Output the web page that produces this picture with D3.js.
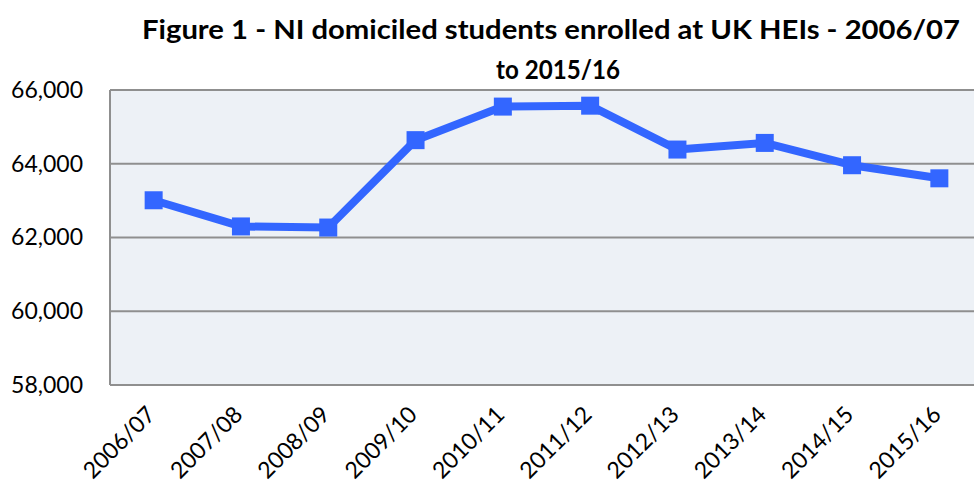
<!DOCTYPE html>
<html>
<head>
<meta charset="utf-8">
<script src="https://cdn.jsdelivr.net/npm/d3@7"></script>
<style>
  body { margin: 0; background: #fff; }
  svg { display: block; font-family: Lato, "Open Sans", sans-serif; }
</style>
</head>
<body>
<div id="chart"></div>
<script>
var years = ["2006/07", "2007/08", "2008/09", "2009/10", "2010/11", "2011/12", "2012/13", "2013/14", "2014/15", "2015/16"];
var students = [63010, 62300, 62270, 64640, 65550, 65575, 64385, 64565, 63960, 63605];
var yTicks = [58000, 60000, 62000, 64000, 66000];

var W = 974, H = 483;
var margin = {top: 90, right: -9, bottom: 98, left: 110},
    width = W - margin.left - margin.right,
    height = H - margin.top - margin.bottom;

var svg = d3.select("#chart")
    .append("svg")
    .attr("width", W)
    .attr("height", H);

// title
var title = svg.append("text")
    .attr("x", 551)
    .attr("text-anchor", "middle")
    .style("font-size", "27px")
    .style("font-weight", "bold")
    .style("fill", "#000");
title.append("tspan").attr("x", 551).attr("y", 39)
    .attr("textLength", 818).attr("lengthAdjust", "spacingAndGlyphs")
    .text("Figure 1 - NI domiciled students enrolled at UK HEIs - 2006/07");
title.append("tspan").attr("x", 558).attr("y", 79)
    .attr("textLength", 124).attr("lengthAdjust", "spacingAndGlyphs")
    .text("to 2015/16");

var g = svg.append("g")
    .attr("transform", "translate(" + margin.left + "," + margin.top + ")");

var x = d3.scaleBand()
    .range([0, width])
    .domain(years);

var y = d3.scaleLinear()
    .range([height, 0])
    .domain([58000, 66000]);

// plot background
g.append("rect")
    .attr("width", width)
    .attr("height", height)
    .style("fill", "#edf1f6");

// gridlines
g.selectAll(".grid")
    .data(yTicks)
    .enter()
    .append("line")
    .attr("x1", 0)
    .attr("x2", width)
    .attr("y1", function(d) { return y(d); })
    .attr("y2", function(d) { return y(d); })
    .style("stroke", "#8f8f8f")
    .style("stroke-width", 2);

// left axis line
g.append("line")
    .attr("x1", 0).attr("x2", 0)
    .attr("y1", 0).attr("y2", height)
    .style("stroke", "#8f8f8f")
    .style("stroke-width", 2);

// y labels
var yAxis = g.append("g")
    .call(d3.axisLeft(y).tickValues(yTicks).tickSize(0).tickPadding(27).tickFormat(d3.format(",")));
yAxis.select(".domain").remove();
yAxis.selectAll("text")
    .style("font-size", "23px")
    .style("font-family", "Lato, 'Open Sans', sans-serif")
    .style("fill", "#000");

// x labels
var xAxis = g.append("g")
    .attr("transform", "translate(0," + height + ")")
    .call(d3.axisBottom(x).tickSize(0).tickPadding(0));
xAxis.select(".domain").remove();
xAxis.selectAll("text")
    .attr("text-anchor", "end")
    .attr("dy", 0)
    .attr("transform", "translate(3,31) rotate(-45)")
    .style("font-size", "23px")
    .style("font-family", "Lato, 'Open Sans', sans-serif")
    .style("fill", "#000");

// line
var line = d3.line()
    .x(function(d, i) { return x(years[i]) + x.bandwidth() / 2; })
    .y(function(d) { return y(d); });

g.append("path")
    .datum(students)
    .attr("d", line)
    .style("fill", "none")
    .style("stroke", "#3366ff")
    .style("stroke-width", 8)
    .style("stroke-linejoin", "round");

g.selectAll(".marker")
    .data(students)
    .enter()
    .append("rect")
    .attr("x", function(d, i) { return x(years[i]) + x.bandwidth() / 2 - 9; })
    .attr("y", function(d) { return y(d) - 9; })
    .attr("width", 18)
    .attr("height", 18)
    .style("fill", "#3366ff");
</script>
</body>
</html>
